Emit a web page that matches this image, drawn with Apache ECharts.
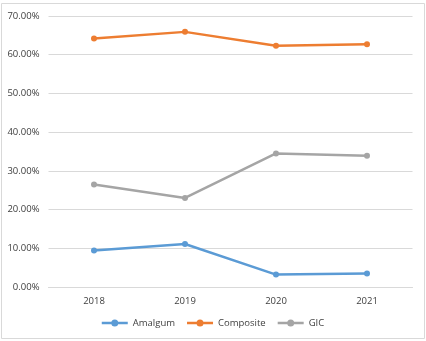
<!DOCTYPE html>
<html><head><meta charset="utf-8">
<script src="https://cdn.jsdelivr.net/npm/echarts@6/dist/echarts.min.js"></script>
<style>html,body{margin:0;padding:0;background:#fff}#c{width:426px;height:341px}</style>
</head><body><div id="c"></div>
<script>
const categories = ['2018','2019','2020','2021'];
const amalgum = [0.094, 0.111, 0.032, 0.035];
const composite = [0.642, 0.659, 0.623, 0.627];
const gic = [0.265, 0.230, 0.345, 0.339];
const seriesNames = ['Amalgum','Composite','GIC'];
const colors = ['#5B9BD5','#ED7D31','#A5A5A5'];

const chart = echarts.init(document.getElementById('c'), null, {renderer:'canvas'});
const font = 'Open Sans, sans-serif';
function mk(name, data, color){
  return {name, type:'line', data, color, symbol:'circle', symbolSize:6,
    lineStyle:{width:2.5, color}, itemStyle:{color}, z:3};
}
chart.setOption({
  animation:false,
  graphic:[{type:'rect', shape:{x:1.5,y:3.5,width:423,height:335}, style:{fill:'none', stroke:'#d9d9d9', lineWidth:1}, silent:true}],
  grid:{left:48.5, right:13.5, top:16, bottom:54, containLabel:false},
  legend:{bottom:8, left:'center', itemWidth:26, itemHeight:7, itemGap:12,
    icon:'path://M0,2.7L26,2.7L26,5.3L0,5.3Z M9.5,4A3.5,3.5 0 1 1 16.5,4A3.5,3.5 0 1 1 9.5,4Z',
    textStyle:{color:'#404040', fontSize:9.5, fontFamily:font},
    data:seriesNames},
  xAxis:{type:'category', data:categories, boundaryGap:true,
    axisLine:{lineStyle:{color:'#d9d9d9'}}, axisTick:{show:false},
    axisLabel:{color:'#404040', fontSize:9.5, fontFamily:font, margin:9}},
  yAxis:{type:'value', min:0, max:0.7, interval:0.1,
    axisLine:{show:false}, axisTick:{show:false},
    splitLine:{lineStyle:{color:'#d9d9d9'}},
    axisLabel:{color:'#404040', fontSize:9.5, fontFamily:font, margin:9,
      formatter:v=>(v*100).toFixed(2)+'%'}},
  series:[mk('Amalgum',amalgum,colors[0]), mk('Composite',composite,colors[1]), mk('GIC',gic,colors[2])]
});
</script></body></html>
